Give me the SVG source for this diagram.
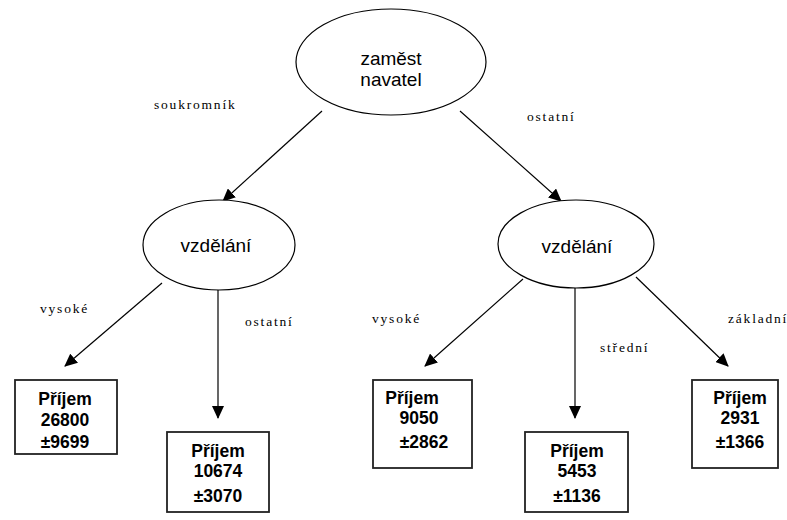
<svg xmlns="http://www.w3.org/2000/svg" width="787" height="520" viewBox="0 0 787 520">
<style>
.ell{fill:#fff;stroke:#000;stroke-width:1.2}
.box{fill:#fff;stroke:#222;stroke-width:1.8}
.nt{font-family:"Liberation Sans",Arial,sans-serif;font-size:19px;fill:#000;text-anchor:middle}
.bt{font-family:"Liberation Sans",Arial,sans-serif;font-size:17.5px;font-weight:bold;fill:#000;text-anchor:middle}
.el{font-family:"Liberation Serif","Times New Roman",serif;font-size:13.5px;letter-spacing:1.8px;fill:#000}
.edge{stroke:#000;stroke-width:1.2;fill:none;marker-end:url(#ah)}
</style>
<defs>
<marker id="ah" markerWidth="14" markerHeight="12" refX="12" refY="6" orient="auto" markerUnits="userSpaceOnUse">
<path d="M0,0 L13,6 L0,12 Z" fill="#000"/>
</marker>
</defs>
<rect width="787" height="520" fill="#fff"/>
<g id="connectors">
<line class="edge" x1="322" y1="111" x2="223" y2="201"/>
<line class="edge" x1="460" y1="111" x2="561" y2="201"/>
<line class="edge" x1="162" y1="283" x2="65" y2="366"/>
<line class="edge" x1="218" y1="290" x2="218" y2="418"/>
<line class="edge" x1="523" y1="279" x2="425" y2="366"/>
<line class="edge" x1="575" y1="288" x2="575" y2="418"/>
<line class="edge" x1="636" y1="277" x2="728" y2="366"/>
<text class="el" x="154" y="109">soukromník</text>
<text class="el" x="527" y="121">ostatní</text>
<text class="el" x="40" y="313">vysoké</text>
<text class="el" x="245" y="326">ostatní</text>
<text class="el" x="372" y="323">vysoké</text>
<text class="el" x="600" y="352">střední</text>
<text class="el" x="728" y="323">základní</text>
</g>
<g id="n-zamestnavatel">
<ellipse class="ell" cx="391" cy="62" rx="95" ry="53"/>
<text class="nt" x="391" y="65">zaměst</text>
<text class="nt" x="391" y="86">navatel</text>
</g>
<g id="n-vzdelani-left">
<ellipse class="ell" cx="219" cy="245" rx="76" ry="45"/>
<text class="nt" x="216" y="252">vzdělání</text>
</g>
<g id="n-vzdelani-right">
<ellipse class="ell" cx="576" cy="244" rx="78" ry="44"/>
<text class="nt" x="577" y="253">vzdělání</text>
</g>
<g id="n-box1">
<rect class="box" x="15" y="380" width="102" height="74"/>
<text class="bt" x="65" y="405">Příjem</text>
<text class="bt" x="65" y="426">26800</text>
<text class="bt" x="65" y="448">±9699</text>
</g>
<g id="n-box2">
<rect class="box" x="167" y="432" width="102" height="80"/>
<text class="bt" x="218" y="457">Příjem</text>
<text class="bt" x="218" y="477">10674</text>
<text class="bt" x="218" y="502">±3070</text>
</g>
<g id="n-box3">
<rect class="box" x="373" y="380" width="99" height="88"/>
<text class="bt" x="412" y="404">Příjem</text>
<text class="bt" x="419" y="424">9050</text>
<text class="bt" x="424" y="448">±2862</text>
</g>
<g id="n-box4">
<rect class="box" x="525" y="432" width="103" height="80"/>
<text class="bt" x="577" y="457">Příjem</text>
<text class="bt" x="577" y="477">5453</text>
<text class="bt" x="577" y="502">±1136</text>
</g>
<g id="n-box5">
<rect class="box" x="692" y="380" width="86" height="88"/>
<text class="bt" x="740" y="404">Příjem</text>
<text class="bt" x="740" y="424">2931</text>
<text class="bt" x="740" y="448">±1366</text>
</g>
</svg>
